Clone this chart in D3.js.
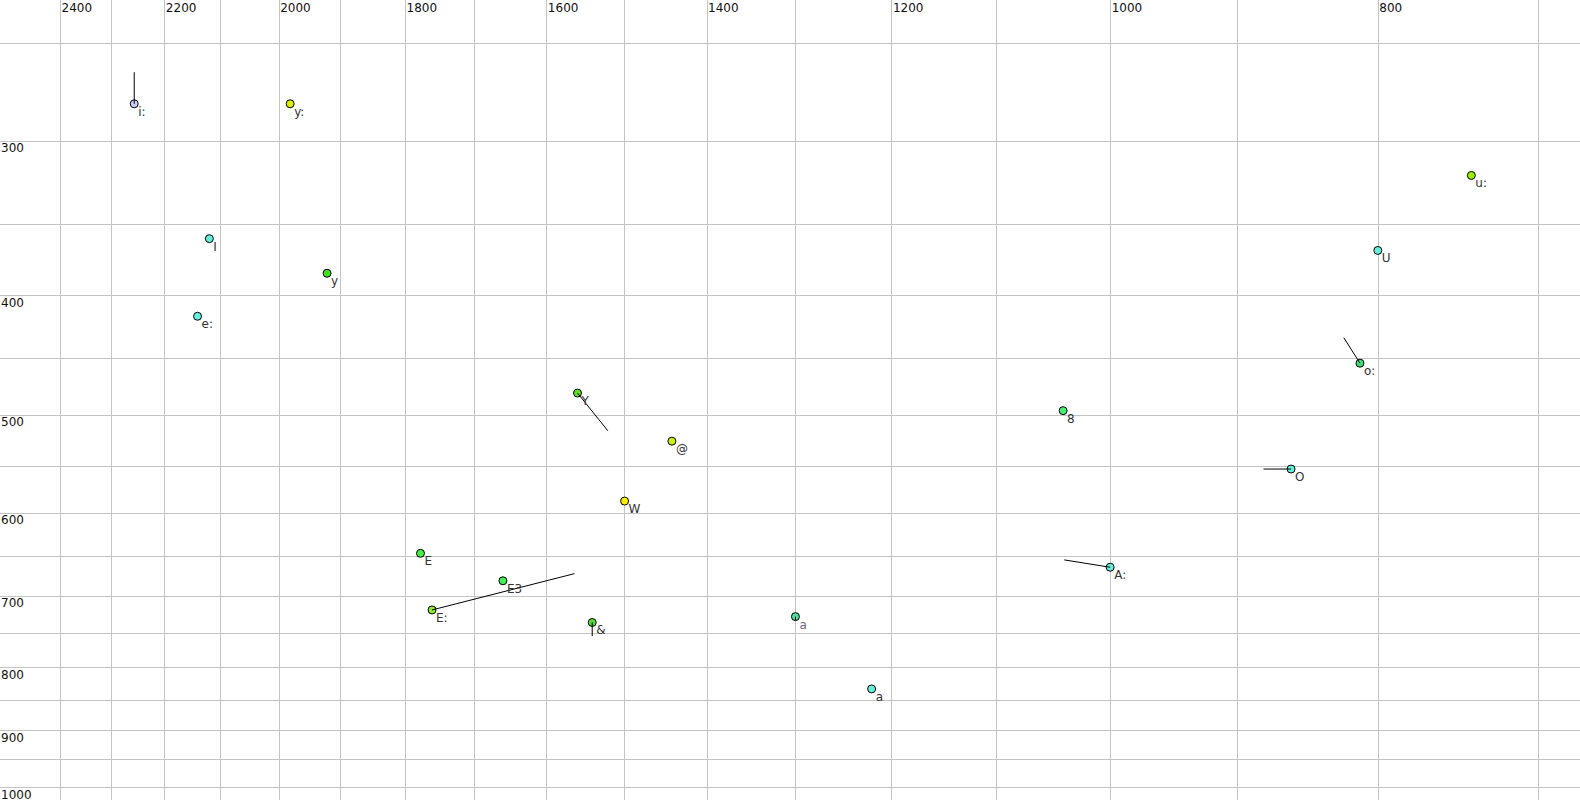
<!DOCTYPE html>
<html>
<head>
<meta charset="utf-8">
<script src="https://cdn.jsdelivr.net/npm/d3@7"></script>
<style>
  html, body { margin: 0; padding: 0; background: #fff; }
  svg { display: block; }
</style>
</head>
<body>
<svg id="chart" width="1580" height="800"></svg>
<script>
// ---- data ----
const vowels = ["i:", "y:", "I", "y", "e:", "Y", "@", "W", "E", "E3", "E:", "&", "a", "a", "8", "O", "A:", "u:", "U", "o:"];
const f2     = [2256, 1981, 2119, 1921, 2140, 1559, 1441, 1499, 1777, 1659, 1760, 1540, 1300, 1220, 1040, 860, 1000, 740, 800, 812];
const f1     = [280, 280, 360, 384, 416, 480, 525, 587, 647, 681, 719, 736, 728, 833, 496, 553, 664, 320, 368, 454];
// trajectory end points (null = none)
const f2End  = [2256, null, null, null, null, 1520, null, null, null, null, 1563, 1540, 1300, null, null, 880, 1039, null, null, 823];
const f1End  = [264, null, null, null, null, 515, null, null, null, null, 672, 755, 733, null, null, 553, 655, null, null, 433];
const fills  = ["#ccccff", "#ddee00", "#66eedd", "#44dd22", "#66eedd", "#66dd22", "#ccee11", "#ffee00", "#44ee44", "#44ee55", "#88ee22", "#55dd33", "#55dd99", "#66eedd", "#44ee77", "#66eedd", "#66eedd", "#99ee00", "#66eedd", "#44dd77"];
const labelColors = ["#333", "#333", "#333", "#333", "#333", "#333", "#333", "#333", "#333", "#333", "#333", "#333", "#666688", "#333", "#333", "#333", "#333", "#333", "#333", "#333"];
const f2Grid = [2400, 2300, 2200, 2100, 2000, 1900, 1800, 1700, 1600, 1500, 1400, 1300, 1200, 1100, 1000, 900, 800, 700];
const f2Ticks = [2400, 2200, 2000, 1800, 1600, 1400, 1200, 1000, 800];
const f1Grid = [250, 300, 350, 400, 450, 500, 550, 600, 650, 700, 750, 800, 850, 900, 950, 1000];
const f1Ticks = [300, 400, 500, 600, 700, 800, 900, 1000];

// ---- scales ----
const x = d3.scaleLog().domain([2400, 700]).range([60, 1538]);
const y = d3.scaleLog().domain([300, 1000]).range([140.8, 787]);

const svg = d3.select("#chart");
const W = 1580, H = 800;
const font = "'DejaVu Sans', sans-serif";

// grid
const grid = svg.append("g").attr("stroke", "#c4c4c4").attr("stroke-width", 1);
grid.selectAll("line.v").data(f2Grid).join("line")
  .attr("x1", d => Math.round(x(d)) + 0.5).attr("x2", d => Math.round(x(d)) + 0.5)
  .attr("y1", 0).attr("y2", H);
grid.selectAll("line.h").data(f1Grid).join("line")
  .attr("y1", d => Math.round(y(d)) + 0.5).attr("y2", d => Math.round(y(d)) + 0.5)
  .attr("x1", 0).attr("x2", W);

// tick labels
svg.append("g").selectAll("text").data(f2Ticks).join("text")
  .attr("x", d => x(d) + 1.5).attr("y", 12)
  .attr("font-family", font).attr("font-size", 12).attr("fill", "#111")
  .text(d => d);
svg.append("g").selectAll("text").data(f1Ticks).join("text")
  .attr("x", 1).attr("y", d => y(d) + 11.5)
  .attr("font-family", font).attr("font-size", 12).attr("fill", "#111")
  .text(d => d);

const pts = vowels.map((v, i) => ({ v, f2: f2[i], f1: f1[i], e2: f2End[i], e1: f1End[i], fill: fills[i], lc: labelColors[i] }));

// points
svg.append("g").selectAll("circle").data(pts).join("circle")
  .attr("cx", d => x(d.f2)).attr("cy", d => y(d.f1)).attr("r", 4)
  .attr("fill", d => d.fill).attr("stroke", "#000").attr("stroke-width", 1);

// trajectories
svg.append("g").selectAll("line").data(pts.filter(d => d.e2 !== null)).join("line")
  .attr("x1", d => x(d.f2)).attr("y1", d => y(d.f1))
  .attr("x2", d => x(d.e2)).attr("y2", d => y(d.e1))
  .attr("stroke", "#000").attr("stroke-width", 1);

// labels
svg.append("g").selectAll("text").data(pts).join("text")
  .attr("x", d => x(d.f2) + 4).attr("y", d => y(d.f1) + 12)
  .attr("font-family", font).attr("font-size", 12).attr("fill", d => d.lc)
  .text(d => d.v);
</script>
</body>
</html>
